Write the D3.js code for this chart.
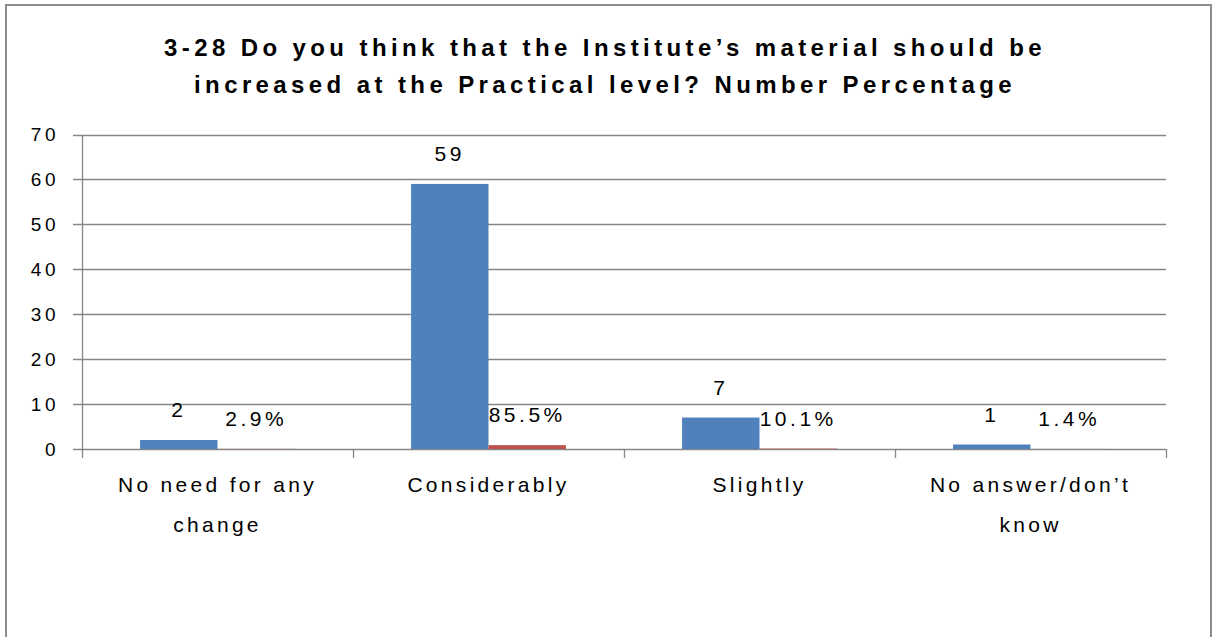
<!DOCTYPE html>
<html>
<head>
<meta charset="utf-8">
<script src="https://cdn.jsdelivr.net/npm/d3@7"></script>
<style>
  html, body { margin: 0; padding: 0; background: #fff; }
  svg { display: block; }
  text { font-family: "Liberation Sans", Arial, sans-serif; fill: #000; }
</style>
</head>
<body>
<svg id="chart" width="1215" height="637"></svg>
<script>
// Survey responses: counts and the share each count represents
const categories = ["No need for any change", "Considerably", "Slightly", "No answer/don\u2019t know"];
const categoryLines = [["No need for any", "change"], ["Considerably"], ["Slightly"], ["No answer/don\u2019t", "know"]];
const numberValues = [2, 59, 7, 1];
const percentValues = [0.029, 0.855, 0.101, 0.014];
const seriesNames = ["Number", "Percentage"];
const yTicks = [0, 10, 20, 30, 40, 50, 60, 70];
const titleLines = ["3-28 Do you think that the Institute\u2019s material should be",
                    "increased at the Practical level? Number Percentage"];

const colors = { Number: "#4F81BD", Percentage: "#C0504D" };
const gridColor = "#868686";

const svg = d3.select("#chart");

// chart frame
svg.append("rect")
  .attr("x", 6).attr("y", 5)
  .attr("width", 1205).attr("height", 660)
  .attr("fill", "#fff").attr("stroke", "#8c8c8c").attr("stroke-width", 2);

const plot = { left: 82, right: 1166, top: 134.5, bottom: 449 };

const x0 = d3.scaleBand().domain(categories).range([plot.left, plot.right]).paddingInner(0).paddingOuter(0);
// Two bars per group with a 150% gap between groups
const barW = x0.bandwidth() / 3.5;
const x1 = d3.scaleBand().domain(seriesNames)
  .range([x0.bandwidth() / 2 - barW, x0.bandwidth() / 2 + barW]).padding(0);
const y = d3.scaleLinear().domain([0, 70]).range([plot.bottom, plot.top]);

// title
svg.append("g").selectAll("text").data(titleLines).join("text")
  .attr("x", 605).attr("y", (d, i) => 56 + i * 37)
  .attr("text-anchor", "middle")
  .attr("font-size", 24).attr("font-weight", "bold")
  .attr("letter-spacing", 4.4)
  .text(d => d);

// horizontal gridlines
svg.append("g").selectAll("line").data(yTicks).join("line")
  .attr("x1", plot.left - 9).attr("x2", plot.right)
  .attr("y1", d => Math.round(y(d)) + 0.5).attr("y2", d => Math.round(y(d)) + 0.5)
  .attr("stroke", gridColor).attr("stroke-width", 1.3);

// y axis
const yAxis = d3.axisLeft(y).tickValues(yTicks).tickSize(0).tickPadding(23);
const yg = svg.append("g").attr("transform", `translate(${plot.left},0)`).call(yAxis);
yg.select(".domain").attr("stroke", gridColor).attr("stroke-width", 1.3);
yg.selectAll("text").attr("font-size", 19).attr("letter-spacing", 3.5)
  .attr("font-family", "Liberation Sans, Arial, sans-serif").attr("fill", "#000");

// x axis with ticks at category boundaries
const bounds = categories.map(c => x0(c)).concat([plot.right]);
svg.append("g").selectAll("line").data(bounds).join("line")
  .attr("x1", d => d + 0.5).attr("x2", d => d + 0.5)
  .attr("y1", plot.bottom).attr("y2", plot.bottom + 9)
  .attr("stroke", gridColor).attr("stroke-width", 1.3);

// category labels
const catG = svg.append("g").selectAll("text").data(categories).join("text")
  .attr("text-anchor", "middle")
  .attr("font-size", 21).attr("letter-spacing", 3.3);
catG.each(function(d, i) {
  const t = d3.select(this);
  categoryLines[i].forEach((line, j) => {
    t.append("tspan").attr("x", x0(d) + x0.bandwidth() / 2).attr("y", 492 + j * 40).text(line);
  });
});

// bars
const rows = categories.map((c, i) => ({ cat: c, Number: numberValues[i], Percentage: percentValues[i] }));
const groups = svg.append("g").selectAll("g").data(rows).join("g")
  .attr("transform", d => `translate(${x0(d.cat)},0)`);

groups.selectAll("rect").data(d => seriesNames.map(s => ({ s, v: d[s] }))).join("rect")
  .attr("x", d => x1(d.s))
  .attr("width", x1.bandwidth())
  .attr("y", d => y(d.v))
  .attr("height", d => y(0) - y(d.v))
  .attr("fill", d => colors[d.s]);

// value labels
const pct = d3.format(".1%");
groups.selectAll("text.lbl").data(d => seriesNames.map(s => ({ s, v: d[s] }))).join("text")
  .attr("class", "lbl")
  .attr("x", d => x1(d.s) + x1.bandwidth() / 2)
  .attr("y", d => y(d.v) - 23)
  .attr("text-anchor", "middle")
  .attr("font-size", 21).attr("letter-spacing", 3.5)
  .text(d => d.s === "Number" ? d.v : pct(d.v));
</script>
</body>
</html>
